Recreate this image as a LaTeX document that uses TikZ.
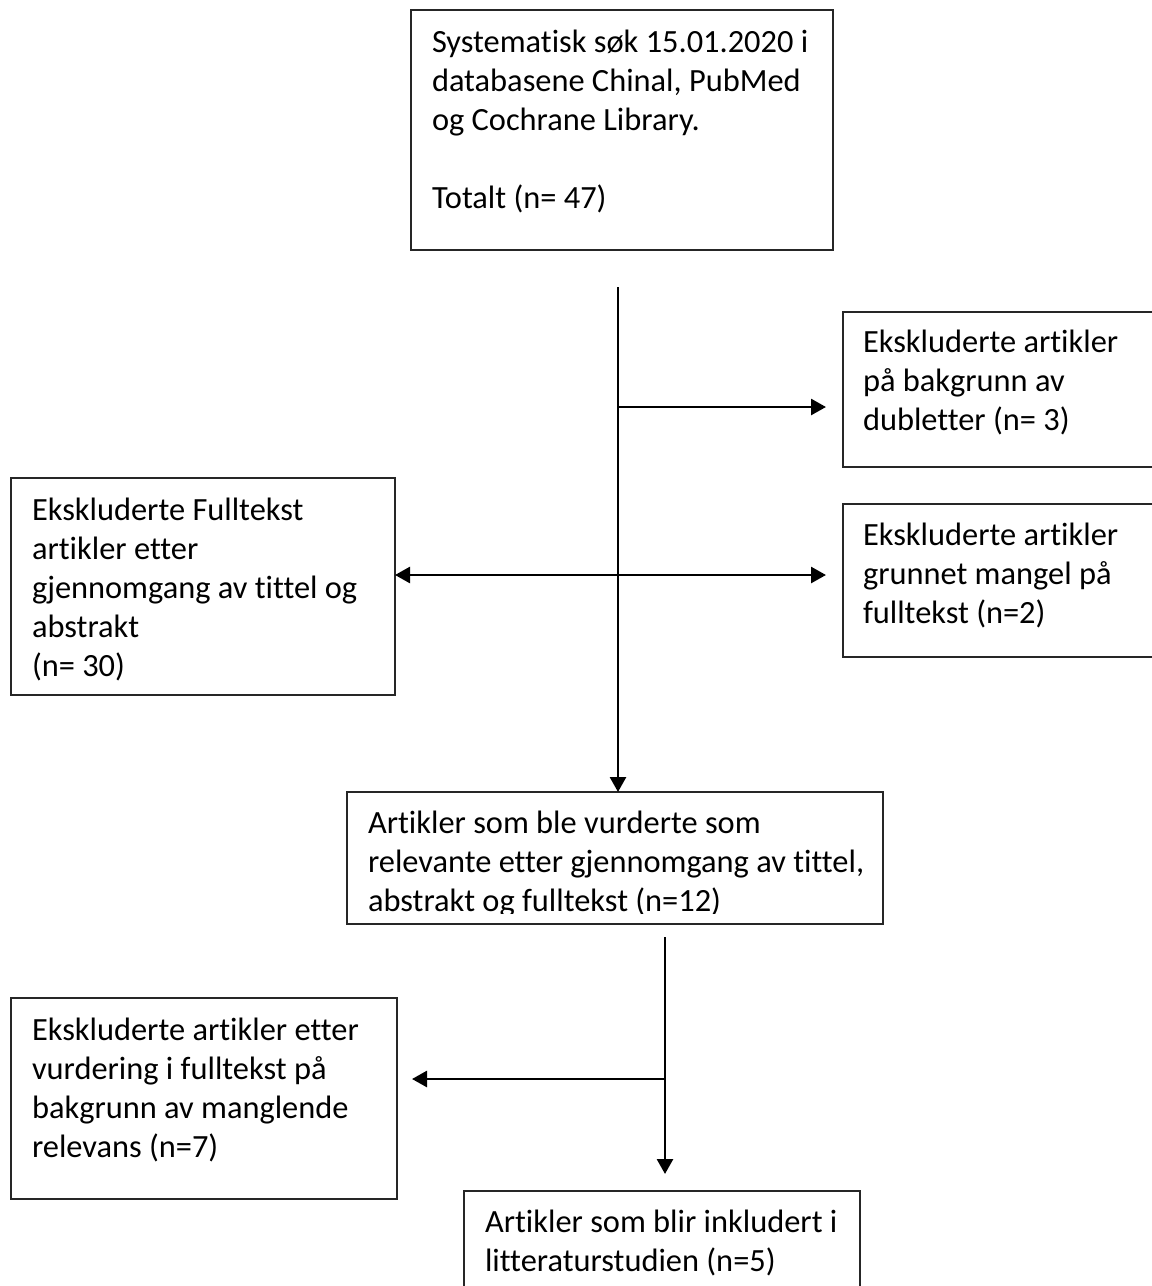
\documentclass[tikz,border=0pt]{standalone}
\usepackage{fontspec}
\setmainfont{Carlito}[Ligatures=NoCommon]
\usetikzlibrary{arrows.meta}
\newcommand{\bx}[5]{\parbox[t][#2pt][t]{#1pt}{\raggedright\leftskip=#3pt\relax\rule{0pt}{#4pt}#5}}
\begin{document}
\begin{tikzpicture}[x=1pt,y=-1pt,
  box/.style={draw=black!85, line width=1.2pt, inner sep=0pt, outer sep=0pt, anchor=north west, font=\fontsize{32.4}{39}\selectfont},
  boxline/.style={draw=black!85, line width=1.2pt},
  conn/.style={line width=2.7pt, -{Triangle[length=15pt,width=16pt]}},
  conntwo/.style={line width=2.7pt, {Triangle[length=15pt,width=16pt]}-{Triangle[length=15pt,width=16pt]}}]
\useasboundingbox (0,0) rectangle (1152,1286);

\node[box] (b1) at (411,10) {\bx{422}{240}{21}{42}{Systematisk søk 15.01.2020 i\\ databasene Chinal, PubMed\\ og Cochrane Library.\\[39pt] Totalt (n= 47)}};

\node[box] (b2) at (843,312) {\bx{320}{155}{20}{40}{Ekskluderte artikler\\ på bakgrunn av\\ dubletter (n= 3)}};

\node[box] (b3) at (11,478) {\bx{384}{217}{21}{42}{Ekskluderte Fulltekst\\ artikler etter\\ gjennomgang av tittel og\\ abstrakt\\ (n= 30)}};

\node[box] (b4) at (843,504) {\bx{320}{153}{20}{41}{Ekskluderte artikler\\ grunnet mangel på\\ fulltekst (n=2)}};

\begin{scope}
\clip (340,785) rectangle (890,913);
\node[box, draw=none] (b5) at (347,792) {\bx{536}{132}{21}{41}{Artikler som ble vurderte som\\ relevante etter gjennomgang av tittel,\\ abstrakt og fulltekst (n=12)}};
\end{scope}
\draw[boxline] (b5.north west) rectangle (b5.south east);

\node[box] (b6) at (11,998) {\bx{386}{201}{21}{42}{Ekskluderte artikler etter\\ vurdering i fulltekst på\\ bakgrunn av manglende\\ relevans (n=7)}};

\node[box] (b7) at (464,1191) {\bx{396}{110}{21}{41}{Artikler som blir inkludert i\\ litteraturstudien (n=5)}};

% connectors
\coordinate (top1) at (618,287);
\coordinate (j1) at (618,407);
\coordinate (j2) at (618,575);
\draw[conn] (top1) -- (top1 |- b5.north);
\draw[conn] (j1) -- ([xshift=-17pt]b2.west |- j1);
\draw[conntwo] (b3.east |- j2) -- ([xshift=-17pt]b4.west |- j2);

\coordinate (top2) at (665,937);
\coordinate (j3) at (665,1079);
\draw[conn] (top2) -- ([yshift=17pt]b7.north -| top2);
\draw[conn] (j3) -- ([xshift=15pt]b6.east |- j3);
\end{tikzpicture}
\end{document}
